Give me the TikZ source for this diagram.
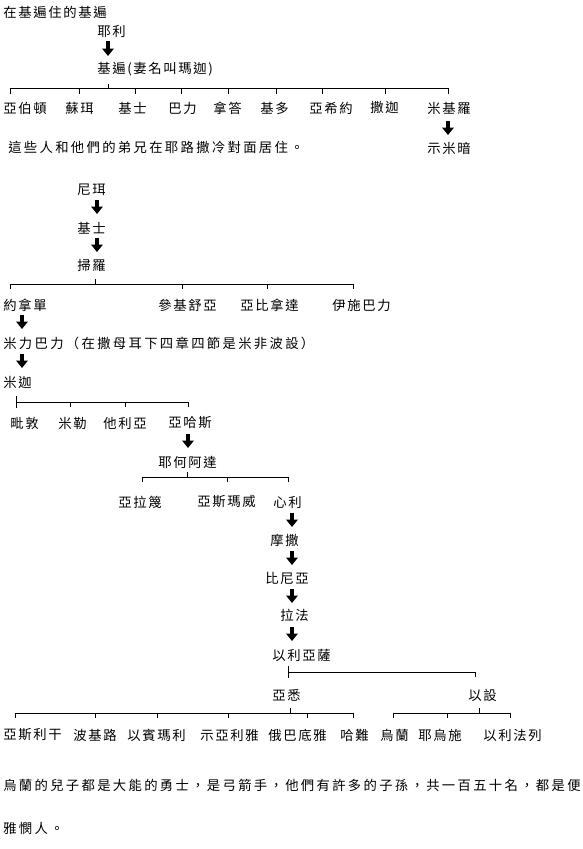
\documentclass[tikz,border=0pt]{standalone}
\usepackage{fontspec}
\usetikzlibrary{arrows.meta}
\newfontfamily\cjk{Noto Sans CJK TC}[LetterSpace=12.5]
\newfontfamily\cjkwide{Noto Sans CJK TC}[LetterSpace=17.5]
\tikzset{
  lbl/.style={anchor=west,inner sep=0pt,font=\cjk\fontsize{10pt}{12pt}\selectfont},
  para/.style={anchor=west,inner sep=0pt,font=\cjkwide\fontsize{10pt}{12pt}\selectfont},
  down/.style={line width=2.5pt,-{Triangle[width=8.5pt,length=5.5pt]}},
  br/.style={line width=0.75pt}
}
\begin{document}
\begin{tikzpicture}[x=0.75pt,y=-0.75pt]
\useasboundingbox[fill=white] (0,0) rectangle (582,849);
% --- section 1
\node[lbl] (t1) at (3,12) {在基遍住的基遍};
\node[lbl] (yeli) at (97,31) {耶利};
\coordinate (a1s) at (108,41); \coordinate (a1e) at (108,56);
\draw[down] (a1s) -- (a1e);
\node[lbl] (jibian) at (97,69) {基遍(妻名叫瑪迦)};
\coordinate (p1) at (108,84);
\draw[br] (p1) -- (108,89);
\draw[br] (10,94) -- (10,89) -- (448,89) -- (448,94);
\foreach \x in {79,135,181,228,276,322,385} \draw[br] (\x,89) -- (\x,94);
\node[lbl] (c11) at (3,108) {亞伯頓};
\node[lbl] (c12) at (65,108) {蘇珥};
\node[lbl] (c13) at (118,108) {基士};
\node[lbl] (c14) at (168,108) {巴力};
\node[lbl] (c15) at (213,108) {拿答};
\node[lbl] (c16) at (260,108) {基多};
\node[lbl] (c17) at (309,108) {亞希約};
\node[lbl] (c18) at (370,108) {撒迦};
\node[lbl] (c19) at (427,108) {米基羅};
\coordinate (a2s) at (448,121); \coordinate (a2e) at (448,135);
\draw[down] (a2s) -- (a2e);
\node[lbl] (shimian) at (427,148) {示米暗};
\node[para] (note1) at (8,147) {這些人和他們的弟兄在耶路撒冷對面居住。};
% --- section 2
\node[lbl] (nier) at (77,190) {尼珥};
\draw[down] (97,200) -- (97,214);
\node[lbl] (jishi) at (77,228) {基士};
\draw[down] (97,238) -- (97,252);
\node[lbl] (saoluo) at (77,265) {掃羅};
\draw[br] (95,279) -- (95,284);
\draw[br] (10,289) -- (10,284) -- (353,284) -- (353,289);
\foreach \x in {182,267} \draw[br] (\x,284) -- (\x,289);
\node[lbl] (c21) at (3,305) {約拿單};
\node[lbl] (c22) at (158,305) {參基舒亞};
\node[lbl] (c23) at (240,305) {亞比拿達};
\node[lbl] (c24) at (332,305) {伊施巴力};
\draw[down] (22,315) -- (22,329);
\node[para] (mili) at (3,343) {米力巴力（在撒母耳下四章四節是米非波設）};
\draw[down] (22,354) -- (22,368);
\node[lbl] (mijia) at (3,382) {米迦};
\draw[br] (16,396) -- (16,408);
\draw[br] (16,402) -- (188,402) -- (188,407);
\foreach \x in {70,125} \draw[br] (\x,402) -- (\x,407);
\node[lbl] (c31) at (10,423) {毗敦};
\node[lbl] (c32) at (58,423) {米勒};
\node[lbl] (c33) at (103,423) {他利亞};
\node[lbl] (c34) at (168,423) {亞哈斯};
\draw[down] (188,434) -- (188,448);
\node[lbl] (yehe) at (158,462) {耶何阿達};
\draw[br] (187,472) -- (187,477);
\draw[br] (142,482) -- (142,477) -- (288,477) -- (288,482);
\draw[br] (227,477) -- (227,482);
\node[lbl] (c41) at (118,502) {亞拉篾};
\node[lbl] (c42) at (197,502) {亞斯瑪威};
\node[lbl] (c43) at (273,502) {心利};
\draw[down] (292,513) -- (292,527);
\node[lbl] (mosa) at (270,540) {摩撒};
\draw[down] (292,551) -- (292,565);
\node[lbl] (biniya) at (265,578) {比尼亞};
\draw[down] (292,589) -- (292,603);
\node[lbl] (lafa) at (280,615) {拉法};
\draw[down] (292,627) -- (292,641);
\node[lbl] (yiliyasa) at (272,655) {以利亞薩};
\draw[br] (288,666) -- (288,678);
\draw[br] (288,672) -- (475,672) -- (475,677);
\node[lbl] (yaxi) at (272,695) {亞悉};
\node[lbl] (yishe) at (468,695) {以設};
\draw[br] (290,708) -- (290,713);
\draw[br] (15,718) -- (15,713) -- (353,713) -- (353,718);
\foreach \x in {95,157,228,307} \draw[br] (\x,713) -- (\x,718);
\draw[br] (479,708) -- (479,713);
\draw[br] (393,718) -- (393,713) -- (510,713) -- (510,718);
\draw[br] (447,713) -- (447,718);
\node[lbl] (c51) at (3,735) {亞斯利干};
\node[lbl] (c52) at (73,735) {波基路};
\node[lbl] (c53) at (127,735) {以賓瑪利};
\node[lbl] (c54) at (200,735) {示亞利雅};
\node[lbl] (c55) at (268,735) {俄巴底雅};
\node[lbl] (c56) at (340,735) {哈難};
\node[lbl] (c61) at (380,735) {烏蘭};
\node[lbl] (c62) at (418,735) {耶烏施};
\node[lbl] (c63) at (483,735) {以利法列};
\node[para] (b1) at (3,785) {烏蘭的兒子都是大能的勇士，是弓箭手，他們有許多的子孫，共一百五十名，都是便};
\node[para] (b2) at (3,828) {雅憫人。};
\end{tikzpicture}
\end{document}
